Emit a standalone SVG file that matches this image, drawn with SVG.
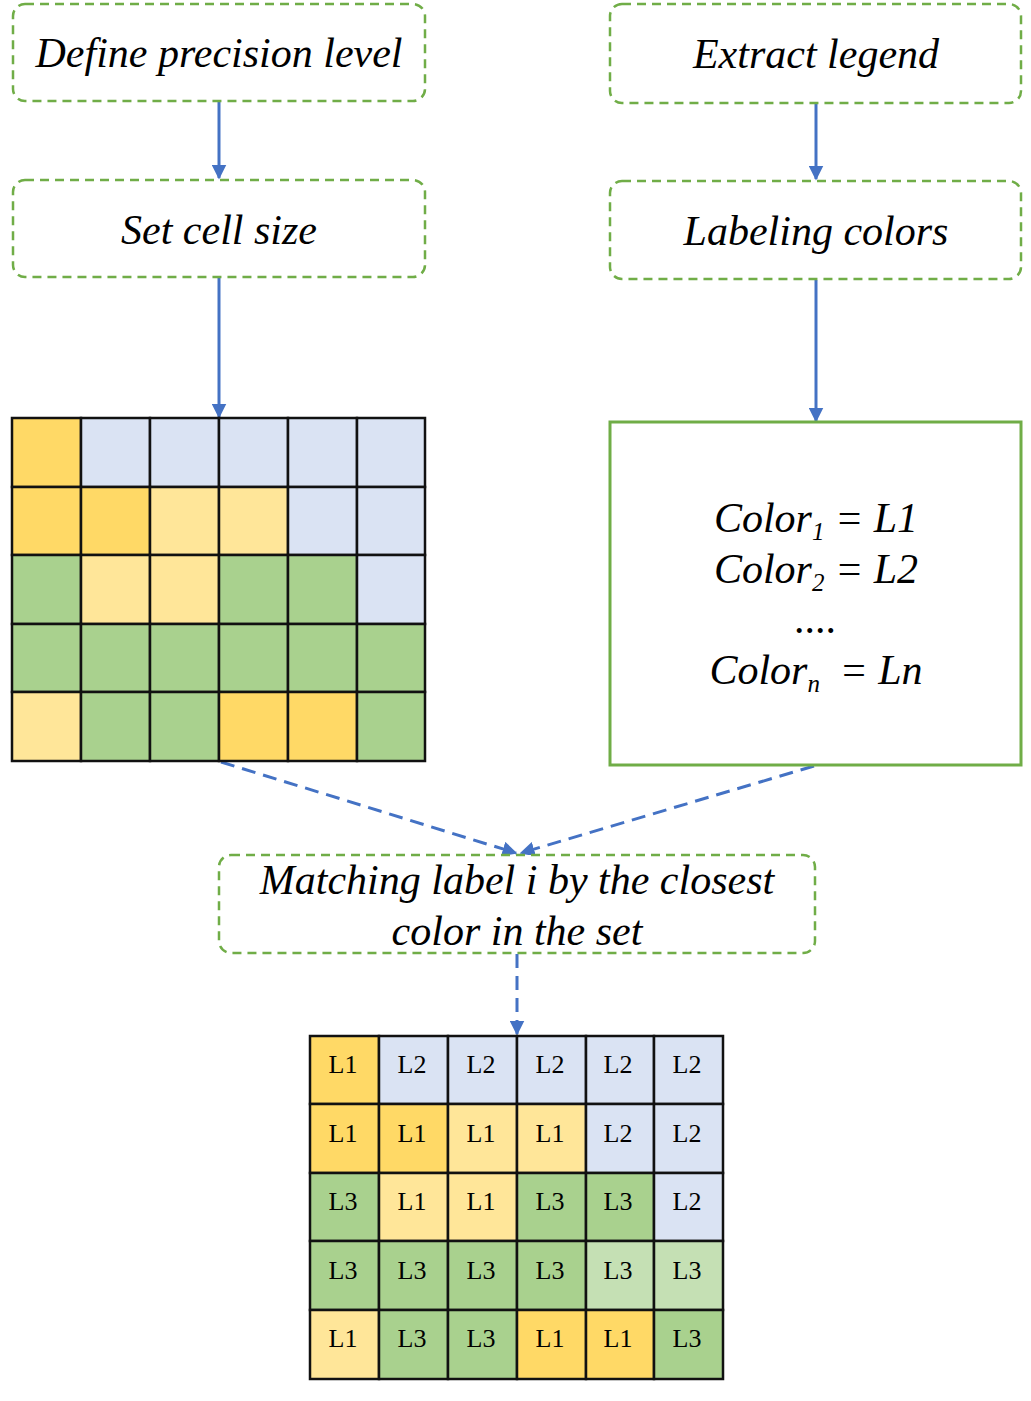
<svg xmlns="http://www.w3.org/2000/svg" width="1031" height="1401" viewBox="0 0 1031 1401">
<defs>
<marker id="ah" viewBox="0 0 10 10" refX="9" refY="5" markerWidth="5" markerHeight="5" orient="auto" markerUnits="strokeWidth">
<path d="M0,0 L10,5 L0,10 z" fill="#4472C4"/>
</marker>
<style>
.step{fill:#fff;stroke:#70AD47;stroke-width:2.5;stroke-dasharray:9 6}
.t{font-family:"Liberation Serif","Times New Roman",serif;font-style:italic;font-size:42px;fill:#000;text-anchor:middle}
.c{font-family:"Liberation Serif","Times New Roman",serif;font-size:26px;fill:#000;text-anchor:middle}
.conn{stroke:#4472C4;stroke-width:3;fill:none}
.dash{stroke-dasharray:14 8}
.g{stroke:#111;stroke-width:2.5}
.Y{fill:#FFD966}.y{fill:#FFE699}.b{fill:#DAE3F3}.G{fill:#A9D18E}.lg{fill:#C5E0B4}
</style>
</defs>
<rect width="1031" height="1401" fill="#fff"/>

<g id="connectors">
<line class="conn" x1="219" y1="102" x2="219" y2="178" marker-end="url(#ah)"/>
<line class="conn" x1="219" y1="278" x2="219" y2="417" marker-end="url(#ah)"/>
<line class="conn" x1="816" y1="104" x2="816" y2="179" marker-end="url(#ah)"/>
<line class="conn" x1="816" y1="280" x2="816" y2="421" marker-end="url(#ah)"/>
<line class="conn dash" x1="221" y1="762" x2="516" y2="853" marker-end="url(#ah)"/>
<line class="conn dash" x1="814" y1="766" x2="521" y2="853" marker-end="url(#ah)"/>
<line class="conn dash" x1="517" y1="954" x2="517" y2="1034" marker-end="url(#ah)"/>
</g>

<g id="define-precision">
<rect class="step" x="13" y="4" width="412" height="97" rx="12"/>
<text class="t" x="219" y="67">Define precision level</text>
</g>
<g id="set-cell-size">
<rect class="step" x="13" y="180" width="412" height="97" rx="12"/>
<text class="t" x="219" y="244">Set cell size</text>
</g>
<g id="extract-legend">
<rect class="step" x="610" y="4" width="411" height="99" rx="12"/>
<text class="t" x="816" y="68">Extract legend</text>
</g>
<g id="labeling-colors">
<rect class="step" x="610" y="181" width="411" height="98" rx="12"/>
<text class="t" x="816" y="245">Labeling colors</text>
</g>

<g id="color-grid">
<rect class="Y g" x="12" y="418" width="69" height="69"/>
<rect class="b g" x="81" y="418" width="69" height="69"/>
<rect class="b g" x="150" y="418" width="69" height="69"/>
<rect class="b g" x="219" y="418" width="69" height="69"/>
<rect class="b g" x="288" y="418" width="69" height="69"/>
<rect class="b g" x="357" y="418" width="68" height="69"/>
<rect class="Y g" x="12" y="487" width="69" height="68"/>
<rect class="Y g" x="81" y="487" width="69" height="68"/>
<rect class="y g" x="150" y="487" width="69" height="68"/>
<rect class="y g" x="219" y="487" width="69" height="68"/>
<rect class="b g" x="288" y="487" width="69" height="68"/>
<rect class="b g" x="357" y="487" width="68" height="68"/>
<rect class="G g" x="12" y="555" width="69" height="69"/>
<rect class="y g" x="81" y="555" width="69" height="69"/>
<rect class="y g" x="150" y="555" width="69" height="69"/>
<rect class="G g" x="219" y="555" width="69" height="69"/>
<rect class="G g" x="288" y="555" width="69" height="69"/>
<rect class="b g" x="357" y="555" width="68" height="69"/>
<rect class="G g" x="12" y="624" width="69" height="68"/>
<rect class="G g" x="81" y="624" width="69" height="68"/>
<rect class="G g" x="150" y="624" width="69" height="68"/>
<rect class="G g" x="219" y="624" width="69" height="68"/>
<rect class="G g" x="288" y="624" width="69" height="68"/>
<rect class="G g" x="357" y="624" width="68" height="68"/>
<rect class="y g" x="12" y="692" width="69" height="69"/>
<rect class="G g" x="81" y="692" width="69" height="69"/>
<rect class="G g" x="150" y="692" width="69" height="69"/>
<rect class="Y g" x="219" y="692" width="69" height="69"/>
<rect class="Y g" x="288" y="692" width="69" height="69"/>
<rect class="G g" x="357" y="692" width="68" height="69"/>
</g>

<g id="legend">
<rect x="610" y="422" width="411" height="343" fill="#fff" stroke="#70AD47" stroke-width="3"/>
<text class="t" x="816" y="532">Color<tspan font-size="25" dy="8">1</tspan><tspan dy="-8"> = L1</tspan></text>
<text class="t" x="816" y="583">Color<tspan font-size="25" dy="8">2</tspan><tspan dy="-8"> = L2</tspan></text>
<text class="t" x="816" y="633" font-style="normal">....</text>
<text class="t" x="816" y="684">Color<tspan font-size="25" dy="8">n</tspan><tspan dy="-8" dx="9"> = Ln</tspan></text>
</g>

<g id="matching">
<rect class="step" x="219" y="855" width="596" height="98" rx="12"/>
<text class="t" x="517" y="894">Matching label i by the closest</text>
<text class="t" x="517" y="945">color in the set</text>
</g>

<g id="label-grid">
<rect class="Y g" x="310" y="1036" width="69" height="68"/>
<rect class="b g" x="379" y="1036" width="69" height="68"/>
<rect class="b g" x="448" y="1036" width="69" height="68"/>
<rect class="b g" x="517" y="1036" width="69" height="68"/>
<rect class="b g" x="586" y="1036" width="68" height="68"/>
<rect class="b g" x="654" y="1036" width="69" height="68"/>
<rect class="Y g" x="310" y="1104" width="69" height="69"/>
<rect class="Y g" x="379" y="1104" width="69" height="69"/>
<rect class="y g" x="448" y="1104" width="69" height="69"/>
<rect class="y g" x="517" y="1104" width="69" height="69"/>
<rect class="b g" x="586" y="1104" width="68" height="69"/>
<rect class="b g" x="654" y="1104" width="69" height="69"/>
<rect class="G g" x="310" y="1173" width="69" height="68"/>
<rect class="y g" x="379" y="1173" width="69" height="68"/>
<rect class="y g" x="448" y="1173" width="69" height="68"/>
<rect class="G g" x="517" y="1173" width="69" height="68"/>
<rect class="G g" x="586" y="1173" width="68" height="68"/>
<rect class="b g" x="654" y="1173" width="69" height="68"/>
<rect class="G g" x="310" y="1241" width="69" height="69"/>
<rect class="G g" x="379" y="1241" width="69" height="69"/>
<rect class="G g" x="448" y="1241" width="69" height="69"/>
<rect class="G g" x="517" y="1241" width="69" height="69"/>
<rect class="lg g" x="586" y="1241" width="68" height="69"/>
<rect class="lg g" x="654" y="1241" width="69" height="69"/>
<rect class="y g" x="310" y="1310" width="69" height="69"/>
<rect class="G g" x="379" y="1310" width="69" height="69"/>
<rect class="G g" x="448" y="1310" width="69" height="69"/>
<rect class="Y g" x="517" y="1310" width="69" height="69"/>
<rect class="Y g" x="586" y="1310" width="68" height="69"/>
<rect class="G g" x="654" y="1310" width="69" height="69"/>
<text class="c" x="343" y="1073">L1</text><text class="c" x="412" y="1073">L2</text><text class="c" x="481" y="1073">L2</text><text class="c" x="550" y="1073">L2</text><text class="c" x="618" y="1073">L2</text><text class="c" x="687" y="1073">L2</text>
<text class="c" x="343" y="1142">L1</text><text class="c" x="412" y="1142">L1</text><text class="c" x="481" y="1142">L1</text><text class="c" x="550" y="1142">L1</text><text class="c" x="618" y="1142">L2</text><text class="c" x="687" y="1142">L2</text>
<text class="c" x="343" y="1210">L3</text><text class="c" x="412" y="1210">L1</text><text class="c" x="481" y="1210">L1</text><text class="c" x="550" y="1210">L3</text><text class="c" x="618" y="1210">L3</text><text class="c" x="687" y="1210">L2</text>
<text class="c" x="343" y="1279">L3</text><text class="c" x="412" y="1279">L3</text><text class="c" x="481" y="1279">L3</text><text class="c" x="550" y="1279">L3</text><text class="c" x="618" y="1279">L3</text><text class="c" x="687" y="1279">L3</text>
<text class="c" x="343" y="1347">L1</text><text class="c" x="412" y="1347">L3</text><text class="c" x="481" y="1347">L3</text><text class="c" x="550" y="1347">L1</text><text class="c" x="618" y="1347">L1</text><text class="c" x="687" y="1347">L3</text>
</g>
</svg>
